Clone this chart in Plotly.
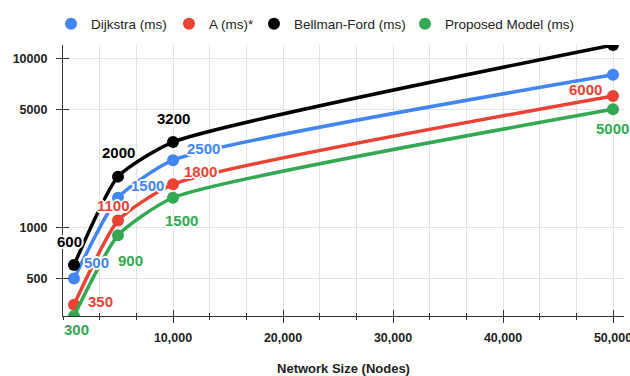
import plotly.graph_objects as go
import math

# ---- data ----
nodes = [1000, 5000, 10000, 50000]
dijkstra = [500, 1500, 2500, 8000]
astar = [350, 1100, 1800, 6000]
bellman = [600, 2000, 3200, 12000]
proposed = [300, 900, 1500, 5000]
series_names = ["Dijkstra (ms)", "A (ms)*", "Bellman-Ford (ms)", "Proposed Model (ms)"]
x_tick_vals = [10000, 20000, 30000, 40000, 50000]
x_tick_text = ["10,000", "20,000", "30,000", "40,000", "50,000"]
y_tick_vals = [500, 1000, 5000, 10000]
y_tick_text = ["500", "1000", "5000", "10000"]
x_title = "Network Size (Nodes)"

# labels shown per point (None = no label)
labels = {
    "Dijkstra (ms)": [500, 1500, 2500, None],
    "A (ms)*": [350, 1100, 1800, 6000],
    "Bellman-Ford (ms)": [600, 2000, 3200, None],
    "Proposed Model (ms)": [300, 900, 1500, 5000],
}

# ---- style ----
colors = ["#4285F4", "#EA4335", "#000000", "#34A853"]
label_offsets = {
    "Dijkstra (ms)": [(22, -16), (29, -12), (30, -12), None],
    "A (ms)*": [(26, -3), (-5, -15), (27, -13), (-28, -6)],
    "Bellman-Ford (ms)": [(-5, -24), (0, -24), (0, -24), None],
    "Proposed Model (ms)": [(2, 13), (12, 25), (8, 23), (-1, 19)],
}
legend_dot_px = [71, 189, 274, 425]   # legend symbol centres (px from left)
FONT = "Arial, Liberation Sans, sans-serif"
X_RANGE = [0, 51000]
Y_RANGE = [math.log10(300), math.log10(12000)]
AX = "#333"
GRID = "#e3e3e3"
HALO = ("-1px -1px 0 #fff, 1px -1px 0 #fff, -1px 1px 0 #fff, 1px 1px 0 #fff, "
        "0 -2px 0 #fff, 0 2px 0 #fff, -2px 0 0 #fff, 2px 0 0 #fff")

W, H = 630, 376
legend_ids = ["legend", "legend2", "legend3", "legend4"]

fig = go.Figure()
all_series = [dijkstra, astar, bellman, proposed]
for name, vals, col in zip(series_names, all_series, colors):
    fig.add_trace(go.Scatter(
        x=nodes, y=vals, mode="lines+markers", name=name,
        line=dict(color=col, width=3.5, shape="spline", smoothing=0.55),
        marker=dict(color=col, size=12),
        showlegend=False, hoverinfo="x+y",
    ))
# legend-only marker traces, one legend each (placed individually)
for name, col, lid in zip(series_names, colors, legend_ids):
    fig.add_trace(go.Scatter(
        x=[None], y=[None], mode="markers", name=name, legend=lid,
        marker=dict(color=col, size=12), showlegend=True,
    ))
# empty trace on overlay axes (used for inside tick marks -> crossing ticks)
fig.add_trace(go.Scatter(x=[None], y=[None], xaxis="x2", yaxis="y2",
                         showlegend=False, hoverinfo="skip"))

annotations = []
for name, vals, col in zip(series_names, all_series, colors):
    for i, (xv, yv) in enumerate(zip(nodes, vals)):
        lab = labels[name][i]
        off = label_offsets[name][i]
        if lab is None or off is None:
            continue
        annotations.append(dict(
            x=xv, y=math.log10(yv), xref="x", yref="y",
            text=str(lab), showarrow=False,
            xshift=off[0], yshift=-off[1],
            font=dict(family=FONT, size=15, color=col, weight="bold", shadow=HALO),
        ))

legend_layout = {}
for lid, dot in zip(legend_ids, legend_dot_px):
    legend_layout[lid] = dict(
        orientation="h", xref="container", x=(dot - 20) / W, xanchor="left",
        yref="container", y=1 - 24 / H, yanchor="middle",
        font=dict(family=FONT, size=13.5, color="#222"),
        itemwidth=30, bgcolor="rgba(0,0,0,0)", borderwidth=0,
    )

fig.update_layout(
    width=W, height=H,
    margin=dict(l=63, r=6, t=45, b=60, autoexpand=False),
    paper_bgcolor="white", plot_bgcolor="white",
    font=dict(family=FONT, color="#222"),
    annotations=annotations,
    showlegend=True,
    xaxis=dict(
        range=X_RANGE, automargin=False,
        tickvals=x_tick_vals, ticktext=x_tick_text,
        tickfont=dict(family=FONT, size=12.5, color="#222", weight="bold"),
        ticklabeloverflow="allow",
        showline=True, linecolor=AX, linewidth=1.2,
        ticks="outside", ticklen=6, tickcolor=AX,
        showgrid=True, gridcolor=GRID,
        minor=dict(tick0=0, dtick=10000 / 3, showgrid=True, gridcolor=GRID,
                   ticks="outside", ticklen=3, tickcolor=AX),
        ticklabelstandoff=4,
        zeroline=False,
        title=dict(text=x_title, font=dict(family=FONT, size=13, color="#222", weight="bold"),
                   standoff=20),
    ),
    yaxis=dict(
        type="log", automargin=False, range=Y_RANGE,
        tickvals=y_tick_vals, ticktext=y_tick_text,
        tickfont=dict(family=FONT, size=12.5, color="#222", weight="bold"),
        showline=True, linecolor=AX, linewidth=1.2,
        ticks="outside", ticklen=6, tickcolor=AX,
        ticklabelstandoff=6,
        showgrid=True, gridcolor=GRID,
        zeroline=False,
    ),
    xaxis2=dict(
        overlaying="x", anchor="y2", side="bottom", range=X_RANGE, automargin=False,
        tickvals=x_tick_vals, showticklabels=False,
        ticks="inside", ticklen=6, tickcolor=AX, showline=False, showgrid=False,
        zeroline=False,
        minor=dict(tick0=0, dtick=10000 / 3, ticks="inside", ticklen=3, tickcolor=AX,
                   showgrid=False),
    ),
    yaxis2=dict(
        overlaying="y", anchor="x2", side="left", type="log", range=Y_RANGE,
        automargin=False, tickvals=y_tick_vals, showticklabels=False,
        ticks="inside", ticklen=6, tickcolor=AX, showline=False, showgrid=False,
        zeroline=False,
    ),
    **legend_layout,
)

fig.write_html(
    "out.html",
    config={"displayModeBar": False},
    post_script="document.body.style.margin='0px'; document.body.style.overflow='hidden';",
)
